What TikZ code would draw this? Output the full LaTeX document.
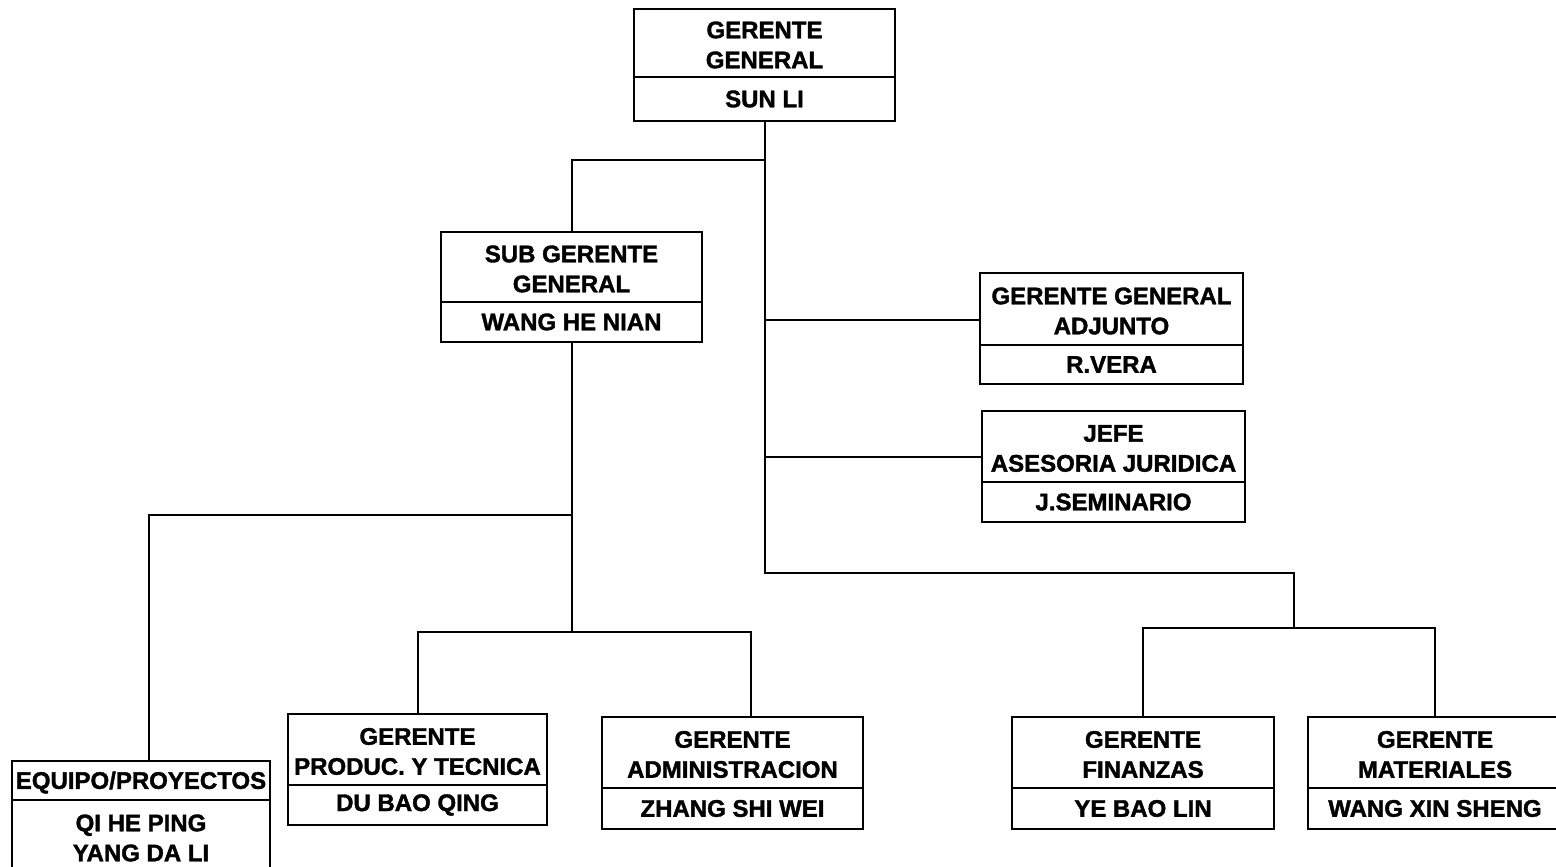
\documentclass[tikz,border=0pt]{standalone}
\usepackage{fontspec}
\setmainfont{Liberation Sans}
\newfontfamily\negra{Liberation Sans Bold}[FakeBold=1.6]
\usepackage{tikz}
\newcommand{\letra}{\fontsize{24}{30}\negra\selectfont}
\tikzset{
  linea/.style={line width=2pt},
  caja/.style={draw, line width=2pt, inner sep=0pt},
  txt/.style={font=\letra, align=center, inner sep=0pt}
}
% #1 name, #2 left, #3 top, #4 right, #5 divider, #6 bottom, #7 title, #8 person
\newcommand{\cargo}[8]{%
  \node[caja, minimum width={#4-#2}, minimum height={#6-#3}] (#1) at ({(#2+#4)/2},{(#3+#6)/2}) {};
  \draw[linea] (#1.west |- 0,#5) -- (#1.east |- 0,#5);
  \node[txt] (#1-t) at ({(#2+#4)/2},{(#3+#5)/2+2}) {#7};
  \node[txt] (#1-p) at ({(#2+#4)/2},{(#5+#6)/2}) {#8};
}

\begin{document}
\begin{tikzpicture}[x=1pt, y=-1pt]
 \clip (0,0) rectangle (1556,867);
 \fill[white] (0,0) rectangle (1556,867);
 %boxes
 \cargo{gg}{634}{9}{895}{77}{121}{GERENTE\\GENERAL}{SUN LI}
 \cargo{sgg}{441}{232}{702}{302}{342}{SUB GERENTE\\GENERAL}{WANG HE NIAN}
 \cargo{gga}{980}{273}{1243}{345}{384}{GERENTE GENERAL\\ADJUNTO}{R.VERA}
 \cargo{jaj}{982}{411}{1245}{482}{522}{JEFE\\ASESORIA JURIDICA}{J.SEMINARIO}
 \cargo{eqp}{12}{761}{270}{800}{876}{EQUIPO/PROYECTOS}{QI HE PING\\YANG DA LI}
 \cargo{gpt}{288}{714}{547}{785}{825}{GERENTE\\PRODUC. Y TECNICA}{DU BAO QING}
 \cargo{gad}{602}{717}{863}{788}{829}{GERENTE\\ADMINISTRACION}{ZHANG SHI WEI}
 \cargo{gfi}{1012}{717}{1274}{788}{829}{GERENTE\\FINANZAS}{YE BAO LIN}
 \cargo{gma}{1308}{717}{1562}{788}{829}{GERENTE\\MATERIALES}{WANG XIN SHENG}
 %connectors
 \coordinate (eqp-in) at (149,761);
 \coordinate (gad-in) at (751,717);
 \coordinate (nfm) at (1294,628);
 \draw[linea] (gg.south) |- (sgg.north |- 0,160) -- (sgg.north);
 \draw[linea] (gg.south) |- (nfm |- 0,573) -- (nfm);
 \draw[linea] (gg.south |- 0,320) -- (gga.west |- 0,320);
 \draw[linea] (gg.south |- 0,457) -- (jaj.west |- 0,457);
 \draw[linea] (gfi.north) |- (nfm) -| (gma.north);
 \draw[linea] (sgg.south) |- (eqp-in |- 0,515) -- (eqp-in);
 \draw[linea] (sgg.south) -- (sgg.south |- 0,632);
 \draw[linea] (gpt.north) |- (sgg.south |- 0,632) -| (gad-in);
\end{tikzpicture}
\end{document}
